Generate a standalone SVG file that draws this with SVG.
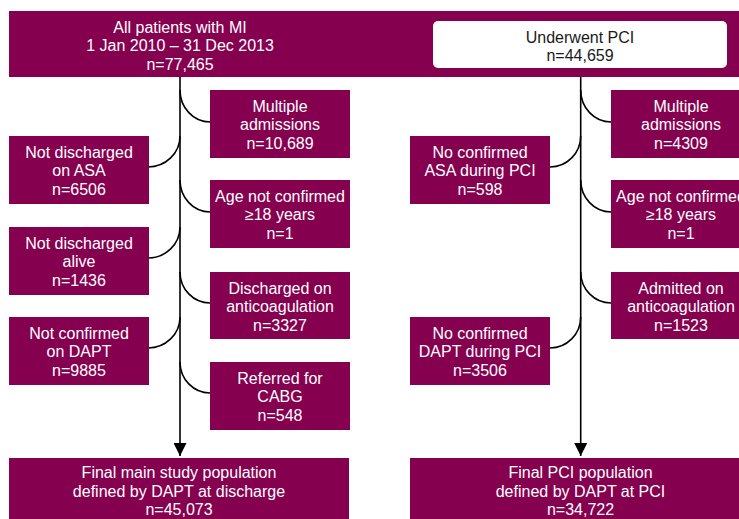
<svg xmlns="http://www.w3.org/2000/svg" width="739" height="519" viewBox="0 0 739 519">
<style>
.b{fill:#860050}
.t{font-family:"Liberation Sans",Arial,sans-serif;font-size:16px;fill:#ffffff;text-anchor:middle}
.d{fill:#1a1a1a}
.c{fill:none;stroke:#000;stroke-width:1.6}
</style>
<defs>
<marker id="ah" viewBox="0 0 13 13" refX="13" refY="6.5" markerWidth="13" markerHeight="13" markerUnits="userSpaceOnUse" orient="auto">
<path d="M0,0 L13,6.5 L0,13 Z" fill="#000"/>
</marker>
</defs>
<rect width="739" height="519" fill="#fff"/>
<g id="all-patients">
<rect class="b" x="9" y="11" width="730" height="66"/>
<text class="t" x="180" y="32.5">All patients with MI</text>
<text class="t" x="180" y="51">1 Jan 2010 – 31 Dec 2013</text>
<text class="t" x="180" y="69.5">n=77,465</text>
</g>
<g id="underwent-pci">
<rect x="433" y="21" width="294" height="47" rx="5" fill="#fff"/>
<text class="t d" x="580" y="42.5">Underwent PCI</text>
<text class="t d" x="580" y="61">n=44,659</text>
</g>
<g id="connectors">
<path class="c" d="M180,77 V456" marker-end="url(#ah)"/>
<path class="c" d="M580.7,77 V456" marker-end="url(#ah)"/>
<path class="c" d="M180,90 A30,32 0 0 0 210,122"/>
<path class="c" d="M180,180 A30,32 0 0 0 210,212"/>
<path class="c" d="M180,272 A30,31 0 0 0 210,303"/>
<path class="c" d="M180,362 A30,31 0 0 0 210,393"/>
<path class="c" d="M180,136 A32,31 0 0 1 148,167"/>
<path class="c" d="M180,227 A32,31 0 0 1 148,258"/>
<path class="c" d="M180,317 A32,31 0 0 1 148,348"/>
<path class="c" d="M580.7,90 A30.3,32 0 0 0 611,122"/>
<path class="c" d="M580.7,180 A30.3,32 0 0 0 611,212"/>
<path class="c" d="M580.7,272 A30.3,31 0 0 0 611,303"/>
<path class="c" d="M580.7,136 A30.7,31 0 0 1 550,167"/>
<path class="c" d="M580.7,317 A30.7,31 0 0 1 550,348"/>
</g>
<g id="multiple-admissions-main">
<rect class="b" x="210" y="90" width="140" height="68"/>
<text class="t" x="280" y="111.5">Multiple</text>
<text class="t" x="280" y="130">admissions</text>
<text class="t" x="280" y="148.5">n=10,689</text>
</g>
<g id="not-discharged-asa">
<rect class="b" x="9" y="136" width="140" height="68"/>
<text class="t" x="79" y="157.5">Not discharged</text>
<text class="t" x="79" y="176">on ASA</text>
<text class="t" x="79" y="194.5">n=6506</text>
</g>
<g id="age-main">
<rect class="b" x="210" y="180" width="140" height="68"/>
<text class="t" x="280" y="201.5">Age not confirmed</text>
<text class="t" x="280" y="220">≥18 years</text>
<text class="t" x="280" y="238.5">n=1</text>
</g>
<g id="not-discharged-alive">
<rect class="b" x="9" y="227" width="140" height="68"/>
<text class="t" x="79" y="248.5">Not discharged</text>
<text class="t" x="79" y="267">alive</text>
<text class="t" x="79" y="285.5">n=1436</text>
</g>
<g id="discharged-anticoag">
<rect class="b" x="210" y="272" width="140" height="67"/>
<text class="t" x="280" y="293.5">Discharged on</text>
<text class="t" x="280" y="312">anticoagulation</text>
<text class="t" x="280" y="330.5">n=3327</text>
</g>
<g id="not-confirmed-dapt">
<rect class="b" x="9" y="317" width="140" height="68"/>
<text class="t" x="79" y="338.5">Not confirmed</text>
<text class="t" x="79" y="357">on DAPT</text>
<text class="t" x="79" y="375.5">n=9885</text>
</g>
<g id="referred-cabg">
<rect class="b" x="210" y="362" width="140" height="68"/>
<text class="t" x="280" y="383.5">Referred for</text>
<text class="t" x="280" y="402">CABG</text>
<text class="t" x="280" y="420.5">n=548</text>
</g>
<g id="final-main">
<rect class="b" x="9" y="458" width="340" height="61"/>
<text class="t" x="179" y="477.5">Final main study population</text>
<text class="t" x="179" y="496.5">defined by DAPT at discharge</text>
<text class="t" x="179" y="515">n=45,073</text>
</g>
<g id="multiple-admissions-pci">
<rect class="b" x="611" y="90" width="140" height="68"/>
<text class="t" x="681" y="111.5">Multiple</text>
<text class="t" x="681" y="130">admissions</text>
<text class="t" x="681" y="148.5">n=4309</text>
</g>
<g id="no-asa-pci">
<rect class="b" x="410" y="136" width="140" height="68"/>
<text class="t" x="480" y="157.5">No confirmed</text>
<text class="t" x="480" y="176">ASA during PCI</text>
<text class="t" x="480" y="194.5">n=598</text>
</g>
<g id="age-pci">
<rect class="b" x="611" y="180" width="140" height="68"/>
<text class="t" x="681" y="201.5">Age not confirmed</text>
<text class="t" x="681" y="220">≥18 years</text>
<text class="t" x="681" y="238.5">n=1</text>
</g>
<g id="admitted-anticoag">
<rect class="b" x="611" y="272" width="140" height="67"/>
<text class="t" x="681" y="293.5">Admitted on</text>
<text class="t" x="681" y="312">anticoagulation</text>
<text class="t" x="681" y="330.5">n=1523</text>
</g>
<g id="no-dapt-pci">
<rect class="b" x="410" y="317" width="140" height="68"/>
<text class="t" x="480" y="338.5">No confirmed</text>
<text class="t" x="480" y="357">DAPT during PCI</text>
<text class="t" x="480" y="375.5">n=3506</text>
</g>
<g id="final-pci">
<rect class="b" x="410" y="458" width="341" height="61"/>
<text class="t" x="580.5" y="477.5">Final PCI population</text>
<text class="t" x="580.5" y="496.5">defined by DAPT at PCI</text>
<text class="t" x="580.5" y="515">n=34,722</text>
</g>
</svg>
